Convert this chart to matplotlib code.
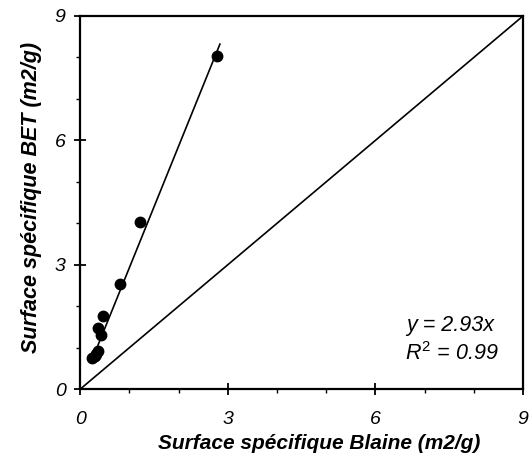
import matplotlib.pyplot as plt
import numpy as np
from matplotlib.ticker import MultipleLocator

plt.rcParams['font.family'] = ['Liberation Sans', 'DejaVu Sans']
plt.rcParams['mathtext.fontset'] = 'custom'
plt.rcParams['mathtext.it'] = 'Liberation Sans:italic'
plt.rcParams['mathtext.rm'] = 'Liberation Sans'

# Blaine (x) vs BET (y) specific surface, m2/g
blaine = [0.25, 0.30, 0.33, 0.37, 0.43, 0.37, 0.46, 0.80, 1.21, 2.79]
bet = [0.74, 0.79, 0.85, 0.91, 1.31, 1.48, 1.76, 2.53, 4.03, 8.04]
slope = 2.93
r2 = 0.99
ticks = [0, 3, 6, 9]


def main():
    fig = plt.figure(figsize=(5.31, 4.70), dpi=100)
    ax = fig.add_axes([0.151, 0.172, 0.834, 0.794])

    x = np.array(blaine)
    y = np.array(bet)

    # y = x reference
    ax.plot([0, 9], [0, 9], color='black', lw=1.2)

    # trend line through origin
    xf = np.array([x.min() - 0.03, x.max() + 0.05])
    ax.plot(xf, slope * xf, color='black', lw=1.2)

    ax.plot(x, y, 'o', color='black', markersize=7.5, zorder=3)

    ax.set_xlim(0, 9)
    ax.set_ylim(0, 9)
    ax.set_xticks(ticks)
    ax.set_yticks(ticks)
    ax.xaxis.set_minor_locator(MultipleLocator(1))
    ax.yaxis.set_minor_locator(MultipleLocator(1))
    ax.tick_params(which='major', direction='inout', length=9, width=1.3,
                   labelsize=14)
    ax.tick_params(which='minor', direction='out', length=3, width=1.0)
    ax.tick_params(axis='x', which='major', pad=11)
    ax.tick_params(axis='y', which='major', pad=6)
    for lab in ax.get_xticklabels() + ax.get_yticklabels():
        lab.set_fontstyle('italic')

    for sp in ax.spines.values():
        sp.set_linewidth(1.6)

    ax.set_xlabel('Surface spécifique Blaine (m2/g)', fontsize=15,
                  fontweight='bold', fontstyle='italic')
    ax.xaxis.set_label_coords(0.54, -0.12)
    ax.xaxis.label.set_va('top')

    fig.text(32 / 531, 1 - 353 / 470, 'Surface spécifique BET (m2/g)',
             rotation=90, fontsize=15.5, fontweight='bold',
             fontstyle='italic', ha='center', va='bottom')

    ax.text(7.52, 1.53, 'y = %.2fx' % slope, fontsize=15.5,
            fontstyle='italic', ha='center', va='center')
    ax.text(7.55, 0.86, '$R^2$ = %.2f' % r2, fontsize=15.5,
            fontstyle='italic', ha='center', va='center')

    fig.savefig('out.png', dpi=100)


if __name__ == "__main__":
    main()
